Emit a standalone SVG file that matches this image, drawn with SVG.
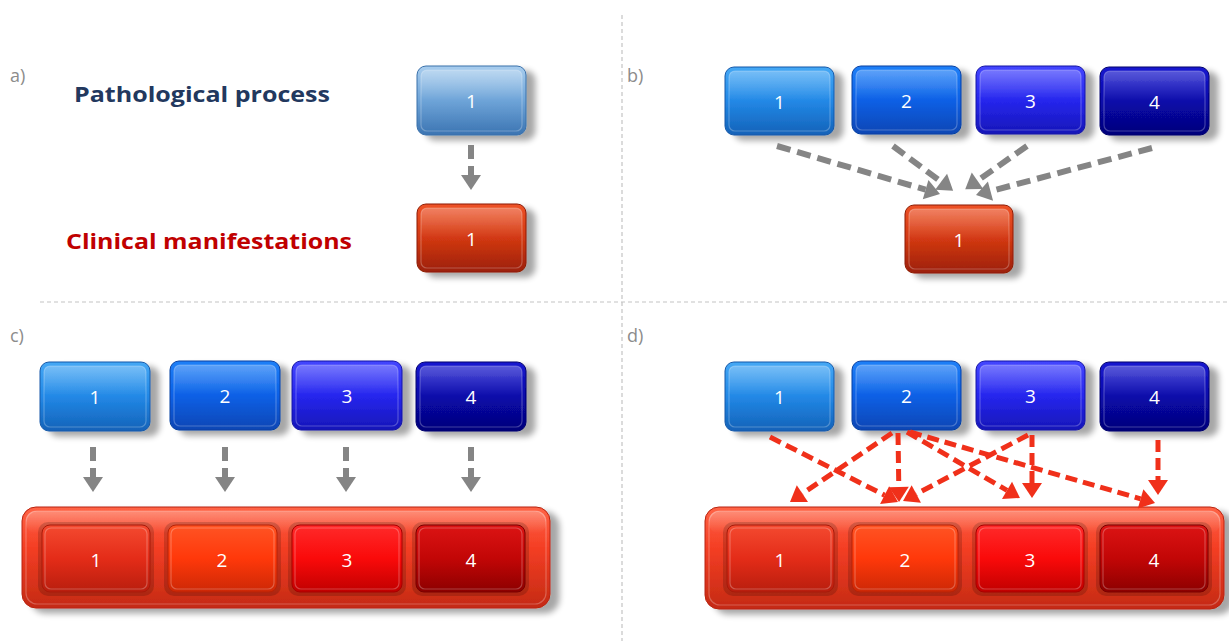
<svg xmlns="http://www.w3.org/2000/svg" width="1229" height="641" viewBox="0 0 1229 641">
<defs>
<style>
.lbl{font-family:"Open Sans","Liberation Sans",sans-serif;font-size:18px;fill:#8c8c8c}
.num{font-family:"Open Sans","Liberation Sans",sans-serif;font-size:19px;fill:#fff;text-anchor:middle}
.bev{fill:none;stroke:#fff;stroke-opacity:.25;stroke-width:1.2}
.hl{fill:url(#gHL)}
.div{stroke:#c4c4c4;stroke-width:1.2;stroke-dasharray:4 3;fill:none}
.ga{stroke:#858585;stroke-width:6;stroke-dasharray:14 7;fill:none}
.ra{stroke:#f0301a;stroke-width:5;stroke-dasharray:12 6;fill:none}
.ring{fill:#000;opacity:.16}
</style>
<filter id="sh" x="-20%" y="-20%" width="150%" height="160%">
<feGaussianBlur in="SourceAlpha" stdDeviation="3"/>
<feOffset dx="9" dy="5" result="b"/>
<feComponentTransfer><feFuncA type="linear" slope="0.35"/></feComponentTransfer>
<feMerge><feMergeNode/><feMergeNode in="SourceGraphic"/></feMerge>
</filter>
<marker id="mg" markerUnits="userSpaceOnUse" markerWidth="16" markerHeight="22" refX="0" refY="10" orient="auto" overflow="visible"><path d="M0,0 L15,10 L0,20 Z" fill="#858585"/></marker>
<marker id="mr" markerUnits="userSpaceOnUse" markerWidth="17" markerHeight="22" refX="0" refY="10" orient="auto" overflow="visible"><path d="M0,0 L15,10 L0,20 Z" fill="#f0301a"/></marker>
<linearGradient id="gHL" x1="0" y1="0" x2="0" y2="1"><stop offset="0" stop-color="#fff" stop-opacity=".28"/><stop offset="1" stop-color="#fff" stop-opacity="0"/></linearGradient>
<linearGradient id="gA" x1="0" y1="0" x2="0" y2="1"><stop offset="0" stop-color="#a8cdee"/><stop offset=".5" stop-color="#6ea4d8"/><stop offset="1" stop-color="#3b74b2"/></linearGradient>
<linearGradient id="gB1" x1="0" y1="0" x2="0" y2="1"><stop offset="0" stop-color="#45a8f5"/><stop offset=".5" stop-color="#2288e6"/><stop offset="1" stop-color="#1462b8"/></linearGradient>
<linearGradient id="gB2" x1="0" y1="0" x2="0" y2="1"><stop offset="0" stop-color="#2080f8"/><stop offset=".5" stop-color="#0a60e6"/><stop offset="1" stop-color="#0846b4"/></linearGradient>
<linearGradient id="gB3" x1="0" y1="0" x2="0" y2="1"><stop offset="0" stop-color="#4446ff"/><stop offset=".5" stop-color="#2626ee"/><stop offset="1" stop-color="#1616b8"/></linearGradient>
<linearGradient id="gB4" x1="0" y1="0" x2="0" y2="1"><stop offset="0" stop-color="#1818d0"/><stop offset=".5" stop-color="#0808aa"/><stop offset="1" stop-color="#04047a"/></linearGradient>
<linearGradient id="gR" x1="0" y1="0" x2="0" y2="1"><stop offset="0" stop-color="#ee5226"/><stop offset=".5" stop-color="#d23812"/><stop offset="1" stop-color="#9c2008"/></linearGradient>
<linearGradient id="gC" x1="0" y1="0" x2="0" y2="1"><stop offset="0" stop-color="#ff6446"/><stop offset=".4" stop-color="#f43e24"/><stop offset="1" stop-color="#c42a14"/></linearGradient>
<linearGradient id="gI1" x1="0" y1="0" x2="0" y2="1"><stop offset="0" stop-color="#f44a30"/><stop offset=".5" stop-color="#e42c18"/><stop offset="1" stop-color="#b81e0e"/></linearGradient>
<linearGradient id="gI2" x1="0" y1="0" x2="0" y2="1"><stop offset="0" stop-color="#ff5424"/><stop offset=".5" stop-color="#ff380a"/><stop offset="1" stop-color="#cc2806"/></linearGradient>
<linearGradient id="gI3" x1="0" y1="0" x2="0" y2="1"><stop offset="0" stop-color="#ff2a2a"/><stop offset=".5" stop-color="#fa0a0a"/><stop offset="1" stop-color="#c00000"/></linearGradient>
<linearGradient id="gI4" x1="0" y1="0" x2="0" y2="1"><stop offset="0" stop-color="#dc1414"/><stop offset=".5" stop-color="#c20606"/><stop offset="1" stop-color="#8c0000"/></linearGradient>
</defs>
<rect width="1229" height="641" fill="#fff"/>

<g id="dividers">
<line class="div" x1="622" y1="15" x2="622" y2="641"/>
<line class="div" x1="40" y1="302" x2="1229" y2="302"/>
</g>

<g id="labels">
<text class="lbl" x="10" y="82">a)</text>
<text class="lbl" x="627" y="82">b)</text>
<text class="lbl" x="10" y="342">c)</text>
<text class="lbl" x="627" y="342">d)</text>
<text x="74" y="102" font-family="'Open Sans','Liberation Sans',sans-serif" font-weight="bold" font-size="22" fill="#22385e" textLength="256" lengthAdjust="spacingAndGlyphs">Pathological process</text>
<text x="66" y="249" font-family="'Open Sans','Liberation Sans',sans-serif" font-weight="bold" font-size="22" fill="#c00000" textLength="286" lengthAdjust="spacingAndGlyphs">Clinical manifestations</text>
</g>

<!-- Panel a -->
<g id="a-path1"><rect x="417" y="66" width="109" height="69" rx="9" fill="url(#gA)" stroke="#3a70aa" filter="url(#sh)"/><rect class="bev" x="421" y="70" width="101" height="61" rx="6"/><rect class="hl" x="421" y="70" width="101" height="30" rx="6"/><text class="num" x="471.5" y="108">1</text></g>
<g id="a-clin1"><rect x="417" y="204" width="109" height="68" rx="9" fill="url(#gR)" stroke="#8c1c06" filter="url(#sh)"/><rect class="bev" x="421" y="208" width="101" height="60" rx="6"/><rect class="hl" x="421" y="208" width="101" height="30" rx="6"/><text class="num" x="471.5" y="246">1</text></g>

<!-- Panel b -->
<g id="b-path1"><rect x="725" y="67" width="109" height="68" rx="9" fill="url(#gB1)" stroke="#1558a8" filter="url(#sh)"/><rect class="bev" x="729" y="71" width="101" height="60" rx="6"/><rect class="hl" x="729" y="71" width="101" height="30" rx="6"/><text class="num" x="779.5" y="109">1</text></g>
<g id="b-path2"><rect x="852" y="66" width="109" height="68" rx="9" fill="url(#gB2)" stroke="#073fa0" filter="url(#sh)"/><rect class="bev" x="856" y="70" width="101" height="60" rx="6"/><rect class="hl" x="856" y="70" width="101" height="30" rx="6"/><text class="num" x="906.5" y="108">2</text></g>
<g id="b-path3"><rect x="976" y="66" width="109" height="68" rx="9" fill="url(#gB3)" stroke="#1414a4" filter="url(#sh)"/><rect class="bev" x="980" y="70" width="101" height="60" rx="6"/><rect class="hl" x="980" y="70" width="101" height="30" rx="6"/><text class="num" x="1030.5" y="108">3</text></g>
<g id="b-path4"><rect x="1100" y="67" width="109" height="68" rx="9" fill="url(#gB4)" stroke="#03036c" filter="url(#sh)"/><rect class="bev" x="1104" y="71" width="101" height="60" rx="6"/><rect class="hl" x="1104" y="71" width="101" height="30" rx="6"/><text class="num" x="1154.5" y="109">4</text></g>
<g id="b-clin1"><rect x="905" y="205" width="108" height="68" rx="9" fill="url(#gR)" stroke="#8c1c06" filter="url(#sh)"/><rect class="bev" x="909" y="209" width="100" height="60" rx="6"/><rect class="hl" x="909" y="209" width="100" height="30" rx="6"/><text class="num" x="959" y="247">1</text></g>

<!-- Panel c -->
<g id="c-path1"><rect x="40" y="362" width="110" height="69" rx="9" fill="url(#gB1)" stroke="#1558a8" filter="url(#sh)"/><rect class="bev" x="44" y="366" width="102" height="61" rx="6"/><rect class="hl" x="44" y="366" width="102" height="30" rx="6"/><text class="num" x="95" y="404">1</text></g>
<g id="c-path2"><rect x="170" y="361" width="110" height="69" rx="9" fill="url(#gB2)" stroke="#073fa0" filter="url(#sh)"/><rect class="bev" x="174" y="365" width="102" height="61" rx="6"/><rect class="hl" x="174" y="365" width="102" height="30" rx="6"/><text class="num" x="225" y="403">2</text></g>
<g id="c-path3"><rect x="292" y="361" width="110" height="69" rx="9" fill="url(#gB3)" stroke="#1414a4" filter="url(#sh)"/><rect class="bev" x="296" y="365" width="102" height="61" rx="6"/><rect class="hl" x="296" y="365" width="102" height="30" rx="6"/><text class="num" x="347" y="403">3</text></g>
<g id="c-path4"><rect x="416" y="362" width="110" height="69" rx="9" fill="url(#gB4)" stroke="#03036c" filter="url(#sh)"/><rect class="bev" x="420" y="366" width="102" height="61" rx="6"/><rect class="hl" x="420" y="366" width="102" height="30" rx="6"/><text class="num" x="471" y="404">4</text></g>
<g id="c-clin">
<rect x="22" y="507" width="528" height="101" rx="14" fill="url(#gC)" stroke="#b82410" filter="url(#sh)"/>
<rect class="bev" x="26" y="511" width="520" height="93" rx="11"/>
<rect class="hl" x="26" y="511" width="520" height="22" rx="9"/>
<g id="c-clin1"><rect class="ring" x="38" y="522" width="116" height="74" rx="10"/><rect x="42" y="525" width="108" height="67" rx="8" fill="url(#gI1)" stroke="#a81a0a"/><rect class="bev" x="45" y="528" width="102" height="61" rx="6"/><text class="num" x="96" y="567">1</text></g>
<g id="c-clin2"><rect class="ring" x="164" y="522" width="117" height="74" rx="10"/><rect x="168" y="525" width="109" height="67" rx="8" fill="url(#gI2)" stroke="#b82206"/><rect class="bev" x="171" y="528" width="103" height="61" rx="6"/><text class="num" x="222" y="567">2</text></g>
<g id="c-clin3"><rect class="ring" x="288" y="522" width="118" height="74" rx="10"/><rect x="292" y="525" width="110" height="67" rx="8" fill="url(#gI3)" stroke="#a80000"/><rect class="bev" x="295" y="528" width="104" height="61" rx="6"/><text class="num" x="347" y="567">3</text></g>
<g id="c-clin4"><rect class="ring" x="412" y="522" width="117" height="74" rx="10"/><rect x="416" y="525" width="109" height="67" rx="8" fill="url(#gI4)" stroke="#7a0000"/><rect class="bev" x="419" y="528" width="103" height="61" rx="6"/><text class="num" x="471" y="567">4</text></g>
</g>

<!-- Panel d -->
<g id="d-path1"><rect x="725" y="362" width="109" height="69" rx="9" fill="url(#gB1)" stroke="#1558a8" filter="url(#sh)"/><rect class="bev" x="729" y="366" width="101" height="61" rx="6"/><rect class="hl" x="729" y="366" width="101" height="30" rx="6"/><text class="num" x="779.5" y="404">1</text></g>
<g id="d-path2"><rect x="852" y="361" width="109" height="69" rx="9" fill="url(#gB2)" stroke="#073fa0" filter="url(#sh)"/><rect class="bev" x="856" y="365" width="101" height="61" rx="6"/><rect class="hl" x="856" y="365" width="101" height="30" rx="6"/><text class="num" x="906.5" y="403">2</text></g>
<g id="d-path3"><rect x="976" y="361" width="109" height="69" rx="9" fill="url(#gB3)" stroke="#1414a4" filter="url(#sh)"/><rect class="bev" x="980" y="365" width="101" height="61" rx="6"/><rect class="hl" x="980" y="365" width="101" height="30" rx="6"/><text class="num" x="1030.5" y="403">3</text></g>
<g id="d-path4"><rect x="1100" y="362" width="109" height="69" rx="9" fill="url(#gB4)" stroke="#03036c" filter="url(#sh)"/><rect class="bev" x="1104" y="366" width="101" height="61" rx="6"/><rect class="hl" x="1104" y="366" width="101" height="30" rx="6"/><text class="num" x="1154.5" y="404">4</text></g>
<g id="d-clin">
<rect x="705" y="507" width="519" height="102" rx="14" fill="url(#gC)" stroke="#b82410" filter="url(#sh)"/>
<rect class="bev" x="709" y="511" width="511" height="94" rx="11"/>
<rect class="hl" x="709" y="511" width="511" height="22" rx="9"/>
<g id="d-clin1"><rect class="ring" x="723" y="522" width="115" height="74" rx="10"/><rect x="727" y="525" width="107" height="67" rx="8" fill="url(#gI1)" stroke="#a81a0a"/><rect class="bev" x="730" y="528" width="101" height="61" rx="6"/><text class="num" x="780" y="567">1</text></g>
<g id="d-clin2"><rect class="ring" x="848" y="522" width="114" height="74" rx="10"/><rect x="852" y="525" width="106" height="67" rx="8" fill="url(#gI2)" stroke="#b82206"/><rect class="bev" x="855" y="528" width="100" height="61" rx="6"/><text class="num" x="905" y="567">2</text></g>
<g id="d-clin3"><rect class="ring" x="972" y="522" width="116" height="74" rx="10"/><rect x="976" y="525" width="108" height="67" rx="8" fill="url(#gI3)" stroke="#a80000"/><rect class="bev" x="979" y="528" width="102" height="61" rx="6"/><text class="num" x="1030" y="567">3</text></g>
<g id="d-clin4"><rect class="ring" x="1096" y="522" width="116" height="74" rx="10"/><rect x="1100" y="525" width="108" height="67" rx="8" fill="url(#gI4)" stroke="#7a0000"/><rect class="bev" x="1103" y="528" width="102" height="61" rx="6"/><text class="num" x="1154" y="567">4</text></g>
</g>

<g id="connectors">
<!-- a -->
<line class="ga" x1="471" y1="145" x2="471" y2="175" marker-end="url(#mg)"/>
<!-- b -->
<line class="ga" x1="777" y1="146" x2="925.6" y2="189.7" marker-end="url(#mg)"/>
<line class="ga" x1="893" y1="146" x2="941.1" y2="181.8" marker-end="url(#mg)"/>
<line class="ga" x1="1027" y1="146" x2="977.5" y2="180.7" marker-end="url(#mg)"/>
<line class="ga" x1="1152" y1="148" x2="990.5" y2="191.2" marker-end="url(#mg)"/>
<!-- c -->
<line class="ga" x1="93" y1="447" x2="93" y2="477" marker-end="url(#mg)"/>
<line class="ga" x1="225" y1="447" x2="225" y2="477" marker-end="url(#mg)"/>
<line class="ga" x1="346" y1="447" x2="346" y2="477" marker-end="url(#mg)"/>
<line class="ga" x1="471" y1="447" x2="471" y2="477" marker-end="url(#mg)"/>
<!-- d -->
<line class="ra" x1="770" y1="437" x2="884.6" y2="495.2" marker-end="url(#mr)"/>
<line class="ra" x1="892" y1="433" x2="802.4" y2="493.6" marker-end="url(#mr)"/>
<line class="ra" x1="898" y1="433" x2="898.8" y2="487" marker-end="url(#mr)"/>
<line class="ra" x1="907" y1="432" x2="1007" y2="490.4" marker-end="url(#mr)"/>
<line class="ra" x1="910" y1="432" x2="1140.6" y2="498.8" marker-end="url(#mr)"/>
<line class="ra" x1="1028" y1="435" x2="916.3" y2="494" marker-end="url(#mr)"/>
<line class="ra" x1="1032" y1="435" x2="1032" y2="483" marker-end="url(#mr)"/>
<line class="ra" x1="1158" y1="440" x2="1158" y2="480" marker-end="url(#mr)"/>
</g>
</svg>
